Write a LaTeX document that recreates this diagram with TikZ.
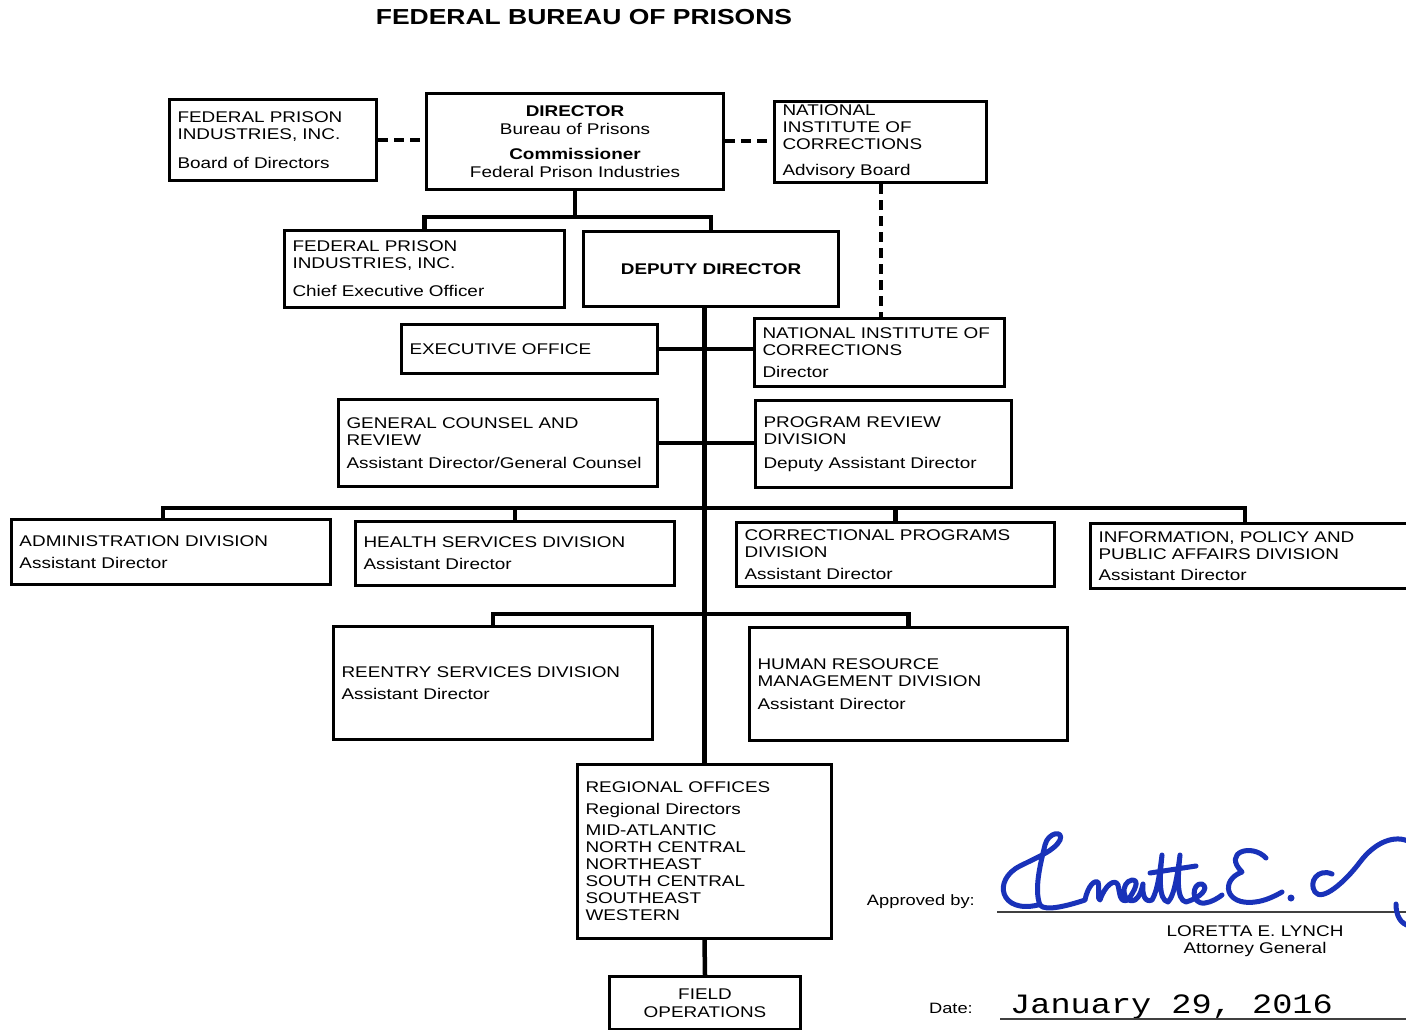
\documentclass[tikz,border=0pt]{standalone}
\usepackage{fontspec}
\setmainfont{Liberation Sans}[FakeStretch=1.22]
\newfontfamily\datefont{Liberation Mono}[FakeStretch=1.2]
\definecolor{sigblue}{RGB}{25,50,185}
\begin{document}
\begin{tikzpicture}[x=1pt,y=-1pt,
  box/.style={draw, line width=3pt, inner xsep=8pt, inner ysep=0pt, anchor=north west,
    align=left, font=\fontsize{15.5}{17}\selectfont},
  cbox/.style={box, align=center},
  conn/.style={line width=4.5pt},
  dashconn/.style={line width=4pt, dash pattern=on 10pt off 6pt},
  plain/.style={inner sep=0pt, font=\fontsize{15.5}{17}\selectfont},
  sig/.style={sigblue, line width=5pt, line cap=round, line join=round}]
\useasboundingbox (0,0) rectangle (1406,1030);
\clip (0,0) rectangle (1406,1030);
\fill[white] (0,0) rectangle (1406,1030);

% title
\node[inner sep=0pt, anchor=base, font=\bfseries\fontsize{21.7}{24}\selectfont] (title) at (584,25) {FEDERAL BUREAU OF PRISONS};

% boxes
\node[box, minimum width=207pt, text width=191pt, minimum height=81pt] (fpib) at (168,98)
  {FEDERAL PRISON\\INDUSTRIES, INC.\\[12pt]Board of Directors};
\node[cbox, minimum width=297pt, text width=281pt, minimum height=96pt] (dir) at (425,92)
  {\textbf{DIRECTOR}\\[1pt]Bureau of Prisons\\[8pt]\textbf{Commissioner}\\[1pt]Federal Prison Industries};
\node[box, minimum width=212pt, text width=196pt, minimum height=81pt] (nica) at (773,100)
  {NATIONAL\\INSTITUTE OF\\CORRECTIONS\\[9pt]Advisory Board};
\node[box, minimum width=280pt, text width=264pt, minimum height=77pt] (ceo) at (283,229)
  {FEDERAL PRISON\\INDUSTRIES, INC.\\[11pt]Chief Executive Officer};
\node[cbox, minimum width=255pt, text width=239pt, minimum height=75pt] (dep) at (582,230)
  {\textbf{DEPUTY DIRECTOR}};
\node[box, minimum width=256pt, text width=240pt, minimum height=49pt] (exec) at (400,323)
  {EXECUTIVE OFFICE};
\node[box, minimum width=250pt, text width=234pt, minimum height=68pt] (nicd) at (753,317)
  {NATIONAL INSTITUTE OF\\CORRECTIONS\\[5pt]Director};
\node[box, minimum width=319pt, text width=303pt, minimum height=87pt] (gc) at (337,398)
  {GENERAL COUNSEL AND\\REVIEW\\[6pt]Assistant Director/General Counsel};
\node[box, minimum width=256pt, text width=240pt, minimum height=87pt] (prd) at (754,399)
  {PROGRAM REVIEW\\DIVISION\\[7pt]Deputy Assistant Director};
\node[box, minimum width=319pt, text width=303pt, minimum height=65pt] (adm) at (10,518)
  {ADMINISTRATION DIVISION\\[5pt]Assistant Director};
\node[box, minimum width=319pt, text width=303pt, minimum height=64pt] (hsd) at (354,520)
  {HEALTH SERVICES DIVISION\\[5pt]Assistant Director};
\node[box, minimum width=318pt, text width=302pt, minimum height=64pt] (cpd) at (735,521)
  {CORRECTIONAL PROGRAMS\\DIVISION\\[5pt]Assistant Director};
\node[box, minimum width=330pt, text width=314pt, minimum height=65pt] (ipp) at (1089,522)
  {INFORMATION, POLICY AND\\PUBLIC AFFAIRS DIVISION\\[4pt]Assistant Director};
\node[box, minimum width=319pt, text width=303pt, minimum height=113pt] (rsd) at (332,625)
  {REENTRY SERVICES DIVISION\\[5pt]Assistant Director};
\node[box, minimum width=318pt, text width=302pt, minimum height=113pt] (hrm) at (748,626)
  {HUMAN RESOURCE\\MANAGEMENT DIVISION\\[6pt]Assistant Director};
\node[box, minimum width=254pt, text width=238pt, minimum height=174pt] (reg) at (576,763)
  {REGIONAL OFFICES\\[5pt]Regional Directors\\[4pt]MID-ATLANTIC\\NORTH CENTRAL\\NORTHEAST\\SOUTH CENTRAL\\SOUTHEAST\\WESTERN};
\node[cbox, minimum width=191pt, text width=175pt, minimum height=53pt] (fop) at (608,975)
  {FIELD\\[1pt]OPERATIONS};

% dashed links
\draw[dashconn] (fpib.east) -- (fpib.east -| dir.west);
\draw[dashconn] (dir.east) -- (dir.east -| nica.west);
\draw[dashconn] (nica.south) -- (nica.south |- nicd.north);

% director tree
\coordinate (b0) at (573,217);
\draw[conn] (dir.south) -- (dir.south |- b0);
\draw[conn] (ceo.north) |- (b0) -| (dep.north);

% trunk
\draw[conn] (reg.north |- dep.south) -- (reg.north);
\draw[conn] (exec.east) -- (exec.east -| nicd.west);
\draw[conn] (gc.east) -- (gc.east -| prd.west);

% division bus
\coordinate (bus1) at (705,508);
\draw[conn] ([xshift=153pt]adm.north west) |- (bus1) -| ([xshift=156pt]ipp.north west);
\draw[conn] (hsd.north) -- (hsd.north |- bus1);
\draw[conn] (cpd.north) -- (cpd.north |- bus1);

% second bus
\coordinate (bus2) at (705,614);
\draw[conn] (rsd.north) |- (bus2) -| (hrm.north);

% field
\draw[conn] (reg.south) -- (fop.north);

% approval
\node[plain, anchor=base east, font=\fontsize{15}{17}\selectfont] (appr) at (975,905) {Approved by:};
\coordinate (sl1) at (997,912);
\coordinate (sl2) at (1406,912);
\draw[line width=1.3pt, black!75] (sl1) -- (sl2);
\node[plain, anchor=base] (lyn) at (1255,936) {LORETTA E. LYNCH};
\node[plain, anchor=base] (ag) at (1255,953) {Attorney General};
\node[plain, anchor=base east, font=\fontsize{15}{17}\selectfont] (datel) at (973,1013) {Date:};
\node[inner sep=0pt, anchor=base west, font=\datefont\fontsize{28}{30}\selectfont] (date) at (1010,1013) {January 29, 2016};
\coordinate (dl1) at (1000,1019);
\coordinate (dl2) at (1406,1019);
\draw[line width=1.3pt, black!75] (dl1) -- (dl2);

% signature
\draw[sig] (1038,905) .. controls (1000,914) and (992,880) .. (1020,866)
  .. controls (1040,856) and (1055,850) .. (1060,840)
  .. controls (1064,830) and (1048,832) .. (1045,845)
  .. controls (1040,865) and (1034,890) .. (1040,905)
  .. controls (1045,912) and (1070,905) .. (1085,900)
  .. controls (1088,885) and (1095,880) .. (1098,882)
  .. controls (1100,890) and (1097,900) .. (1100,900)
  .. controls (1105,885) and (1115,878) .. (1118,885)
  .. controls (1120,895) and (1120,903) .. (1128,900)
  .. controls (1135,890) and (1140,880) .. (1132,880)
  .. controls (1120,882) and (1122,905) .. (1135,900)
  .. controls (1140,897) and (1142,888) .. (1143,884)
  .. controls (1142,895) and (1145,903) .. (1152,900)
  .. controls (1158,890) and (1160,870) .. (1162,855)
  .. controls (1160,875) and (1158,900) .. (1168,902)
  .. controls (1175,895) and (1178,870) .. (1180,855)
  .. controls (1178,875) and (1176,900) .. (1186,902)
  .. controls (1200,898) and (1210,888) .. (1202,884)
  .. controls (1192,882) and (1190,905) .. (1205,903)
  .. controls (1212,902) and (1218,898) .. (1222,895);
\draw[sig] (1150,873) -- (1196,866);
\draw[sig] (1266,858) .. controls (1252,843) and (1222,852) .. (1242,872)
  .. controls (1220,880) and (1225,906) .. (1255,902)
  .. controls (1265,901) and (1275,896) .. (1282,892);
\fill[sigblue] (1291,898) circle (3.5pt);
\draw[sig] (1332,874) .. controls (1318,868) and (1308,882) .. (1315,892)
  .. controls (1322,902) and (1345,882) .. (1360,862)
  .. controls (1375,842) and (1395,834) .. (1410,842);
\draw[sig] (1396,904) .. controls (1396,915) and (1400,924) .. (1410,926);
\end{tikzpicture}
\end{document}
